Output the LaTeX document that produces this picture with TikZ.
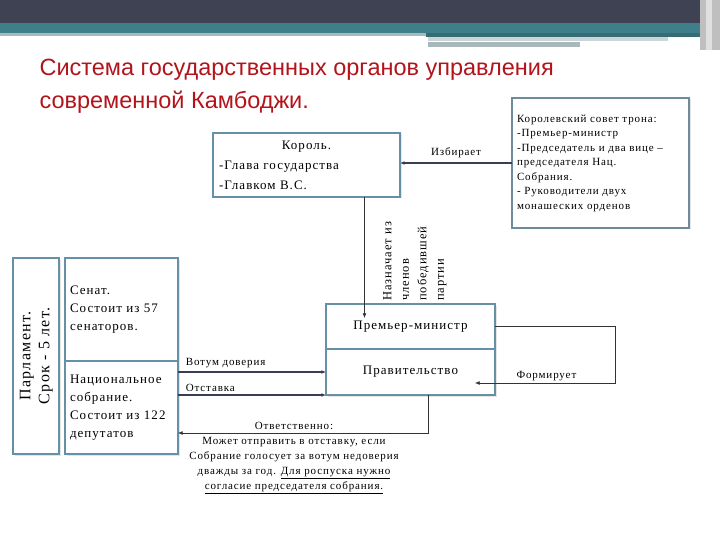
\documentclass[tikz,border=0pt]{standalone}
\usepackage{fontspec}
\setmainfont{Liberation Serif}[LetterSpace=8]
\newfontfamily\fuenteTitulo{Liberation Sans}
\usetikzlibrary{arrows.meta, positioning, shadows}
\definecolor{pizarraoscura}{HTML}{3F4253}
\definecolor{verdemar}{HTML}{3F7F8A}
\definecolor{grisclaro}{HTML}{A9B8BC}
\definecolor{rojotitulo}{HTML}{B3141C}
\definecolor{aceroazul}{HTML}{6590A6}
\definecolor{tintaoscura}{HTML}{3A3D57}
\colorlet{colBorde}{aceroazul}
\colorlet{colTitulo}{rojotitulo}
\colorlet{colLinea}{black!80}
\colorlet{colLineaGruesa}{tintaoscura}
\tikzset{
  cajaBase/.style={
    draw=colBorde, line width=2pt, outer sep=0pt,
    fill=white, inner sep=4pt, text=black,
    font=\fontsize{13}{18}\selectfont,
    drop shadow={shadow xshift=1.5pt, shadow yshift=-1.5pt, opacity=.2}
  },
  cajaTexto/.style={cajaBase, align=left},
  cajaConsejo/.style={cajaBase, draw=colBorde!70!gray, line width=1.5pt,
    align=left, font=\fontsize{11}{14.5}\selectfont},
  flecha/.style={-{Latex[length=1.6mm, width=1.3mm]}, line width=.6pt, colLinea},
  flechaGruesa/.style={-{Latex[length=1.6mm, width=1.3mm]}, line width=1.6pt, colLineaGruesa},
  etiquetaFlecha/.style={font=\fontsize{11}{12}\selectfont, text=black, inner sep=1pt},
}

\begin{document}
\begin{tikzpicture}[x=1pt, y=-1pt, node distance=0pt]
  \fill[white] (0,0) rectangle (720,540);
  \useasboundingbox (0,0) rectangle (720,540);
  % cabecera de la diapositiva
  \fill[pizarraoscura] (0,0) rectangle (720,23);
  \fill[verdemar] (0,23) rectangle (720,33);
  \fill[grisclaro] (0,33) rectangle (426,36);
  \fill[verdemar!85!black] (426,33) rectangle (700,37);
  \fill[grisclaro!60] (428,37) rectangle (668,41);
  \fill[grisclaro] (428,42) rectangle (580,47);
  \fill[black!25] (700,0) rectangle (720,50);
  \fill[black!12] (706,0) rectangle (712,50);

  \node[anchor=base west, font=\fuenteTitulo\fontsize{23.5}{28}\selectfont, text=colTitulo]
    (titulo1) at (36,76) {Система государственных органов управления};
  \node[anchor=base west, font=\fuenteTitulo\fontsize{23.5}{28}\selectfont, text=colTitulo]
    (titulo2) at (36,109) {современной Камбоджи.};

  \node[cajaTexto, minimum width=187pt, minimum height=64pt, text width=175pt,
    font=\fontsize{13}{20}\selectfont] (rey) at (306.5,165)
    {\makebox[175pt]{Король.}\\-Глава государства\\-Главком В.С.};
  \node[cajaConsejo, minimum width=177pt, minimum height=130pt, text width=167pt]
    (consejo) at (600.5,163)
    {Королевский совет трона:\\-Премьер-министр\\-Председатель и два вице –\\
     председателя Нац.\\Собрания.\\- Руководители двух\\монашеских орденов};
  \node[cajaBase, minimum width=46pt, minimum height=196pt, font=\fontsize{16}{19}\selectfont]
    (parlamento) at (36,356)
    {\rotatebox{90}{\begin{tabular}{@{}c@{}}Парламент.\\Срок - 5 лет.\end{tabular}}};
  \node[cajaTexto, minimum width=113pt, minimum height=103pt, text width=103pt]
    (senado) at (121.5,309.5) {Сенат.\\Состоит из 57\\сенаторов.};
  \node[cajaTexto, minimum width=113pt, minimum height=93pt, text width=103pt,
    below=of senado] (asamblea)
    {Национальное\\собрание.\\Состоит из 122\\депутатов};
  \node[cajaBase, minimum width=169pt, minimum height=45pt] (primer) at (410.5,326.5)
    {Премьер-министр};
  \node[cajaBase, minimum width=169pt, minimum height=46pt, below=of primer] (gobierno)
    {Правительство};

  \node[rotate=90, anchor=north west, align=left, inner sep=0pt,
    font=\fontsize{12.5}{17.5}\selectfont] (nombraTexto) at (383,301)
    {Назначает из\\членов\\победившей\\партии};

  \coordinate (nombraIni) at ([xshift=58pt]rey.south);
  \coordinate (nombraBase) at (nombraIni |- primer.north);
  \coordinate (nombraFin) at ([yshift=-14pt]nombraBase);
  \draw[flecha] (nombraIni) -- (nombraFin);

  \draw[flechaGruesa] (consejo.west) -- (consejo.west -| rey.east)
    node[midway, above=3pt, etiquetaFlecha] {Избирает};

  \draw[flechaGruesa] (asamblea.east |- gobierno.west) -- (gobierno.west)
    node[pos=0, anchor=south west, xshift=6pt, yshift=2pt, etiquetaFlecha] {Вотум доверия};
  \draw[flechaGruesa] (asamblea.east |- gobierno.south west) -- (gobierno.south west)
    node[pos=0, anchor=south west, xshift=6pt, yshift=2pt, etiquetaFlecha] {Отставка};

  \coordinate (respIni) at ([xshift=18pt]gobierno.south);
  \coordinate (respEsquina) at ([yshift=-38pt]respIni);
  \draw[flecha] (respIni) -- (respEsquina) -- (respEsquina -| asamblea.east);
  \node[etiquetaFlecha, anchor=north, align=center, font=\fontsize{11}{15}\selectfont]
    (respTexto) at (294,421)
    {Ответственно:\\Может отправить в отставку, если\\Собрание голосует за вотум недоверия\\
     дважды за год. \underline{Для роспуска нужно}\\\underline{согласие председателя собрания.}};

  \coordinate (formaDer) at ([xshift=120pt]primer.east);
  \coordinate (formaFin) at ([xshift=-20pt, yshift=-11pt]gobierno.east);
  \draw[flecha] (primer.east) -- (formaDer) -- (formaDer |- formaFin) -- (formaFin)
    node[pos=.49, above=1pt, etiquetaFlecha] {Формирует};
\end{tikzpicture}
\end{document}
